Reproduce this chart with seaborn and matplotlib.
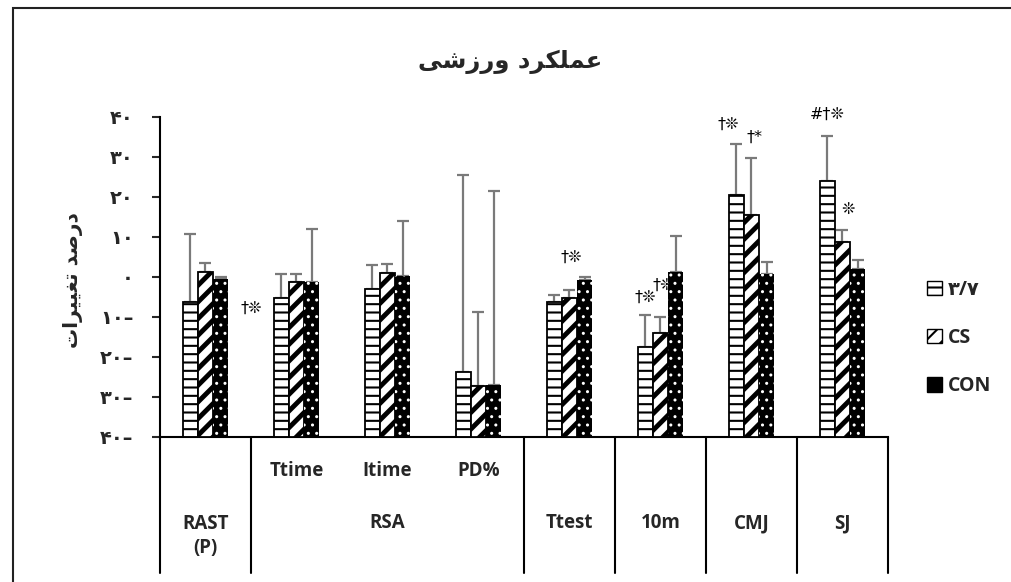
import numpy as np
import pandas as pd
import seaborn as sns
import matplotlib.pyplot as plt
from matplotlib.patches import Patch, Rectangle

# --- data ---
tests = ['RAST', 'Ttime', 'Itime', 'PD%', 'Ttest', '10m', 'CMJ', 'SJ']
groups = ['۳/۷', 'CS', 'CON']
mean_37 = [-6.2, -5.2, -2.9, -23.8, -6.2, -17.4, 20.6, 24.1]
mean_cs = [1.2, -1.2, 1.0, -27.2, -5.2, -14.1, 15.5, 8.8]
mean_con = [-0.4, -1.3, 0.2, -27.0, -0.8, 1.2, 0.7, 1.9]
sd_37 = [17.0, 6.0, 5.8, 49.4, 1.8, 7.9, 12.7, 11.2]
sd_cs = [2.3, 2.0, 2.3, 18.5, 2.0, 4.2, 14.2, 2.9]
sd_con = [0.3, 13.4, 13.8, 48.6, 0.7, 9.0, 3.1, 2.3]
floor = -40  # category axis crosses at -40

# significance marks: (x in category units, y value, text)
marks_x = [0.5, 4.02, 4.83, 5.03, 5.75, 6.03, 6.83, 7.06]
marks_y = [-7.8, 5.0, -5.0, -2.0, 38.2, 35.0, 40.8, 16.8]
marks_t = ['†❊', '†❊', '†❊', '†❊', '†❊', '†*', '#†❊', '❊']

# two-level category axis
sub_labels = {1: 'Ttime', 2: 'Itime', 3: 'PD%'}
main_labels = [(0, 'RAST\n(P)'), (2, 'RSA'), (4, 'Ttest'), (5, '10m'), (6, 'CMJ'), (7, 'SJ')]
separators = [-0.5, 0.5, 3.5, 4.5, 5.5, 6.5, 7.5]

title = 'عملکرد ورزشی'
ylabel = 'درصد تغییرات'

# --- minimal Persian shaping (matplotlib has no complex text layout) ---
FORMS = {
    'ع': '\uFEC9\uFECA\uFECB\uFECC', 'م': '\uFEE1\uFEE2\uFEE3\uFEE4',
    'ل': '\uFEDD\uFEDE\uFEDF\uFEE0', 'ک': '\uFB8E\uFB8F\uFB90\uFB91',
    'ش': '\uFEB5\uFEB6\uFEB7\uFEB8', 'ی': '\uFBFC\uFBFD\uFBFE\uFBFF',
    'ص': '\uFEB9\uFEBA\uFEBB\uFEBC', 'ت': '\uFE95\uFE96\uFE97\uFE98',
    'غ': '\uFECD\uFECE\uFECF\uFED0',
    'ر': '\uFEAD\uFEAE', 'د': '\uFEA9\uFEAA', 'و': '\uFEED\uFEEE',
    'ز': '\uFEAF\uFEB0', 'ا': '\uFE8D\uFE8E',
}


def shape(s):
    out = []
    for i, c in enumerate(s):
        if c not in FORMS:
            out.append(c)
            continue
        prev = s[i - 1] if i > 0 else ''
        nxt = s[i + 1] if i + 1 < len(s) else ''
        jp = prev in FORMS and len(FORMS[prev]) == 4
        jn = len(FORMS[c]) == 4 and nxt in FORMS
        f = FORMS[c]
        if jp and jn:
            out.append(f[3])
        elif jp:
            out.append(f[1])
        elif jn:
            out.append(f[2])
        else:
            out.append(f[0])
    return ''.join(reversed(out))


FA_DIGITS = str.maketrans('0123456789', '۰۱۲۳۴۵۶۷۸۹')


def fa_tick(v, pos=None):
    v = int(round(v + floor))
    s = str(abs(v)).translate(FA_DIGITS)
    return s + '–' if v < 0 else s


df = pd.DataFrame({
    'test': tests * 3,
    'group': [g for g in groups for _ in tests],
    'value': mean_37 + mean_cs + mean_con,
})
df['height'] = df['value'] - floor
sds = [sd_37, sd_cs, sd_con]

sns.set_style('white')
plt.rcParams['font.family'] = ['Open Sans', 'DejaVu Sans']
plt.rcParams['hatch.linewidth'] = 1.5

fig = plt.figure(figsize=(10.12, 5.82), dpi=100)
ax = fig.add_axes([160 / 1012, 1 - 437 / 582, 728 / 1012, 320 / 582])

sns.barplot(data=df, x='test', y='height', hue='group', order=tests,
            hue_order=groups, width=0.5, errorbar=None, legend=False, ax=ax)

styles = [
    dict(facecolor='white', edgecolor='black', hatch='--', hlw=1.5),
    dict(facecolor='white', edgecolor='black', hatch='//', hlw=3.5),
    dict(facecolor='black', edgecolor='white', hatch='..', hlw=1.0),
]
for cont, st, sd in zip(ax.containers, styles, sds):
    xs, tops = [], []
    for p in cont.patches:
        p.set_facecolor(st['facecolor'])
        p.set_edgecolor(st['edgecolor'])
        p.set_hatch(st['hatch'])
        p.set_linewidth(1.3 if st['facecolor'] == 'white' else 0)
        if hasattr(p, 'set_hatch_linewidth'):
            p.set_hatch_linewidth(st['hlw'])
        p.set_zorder(3)
        xs.append(p.get_x() + p.get_width() / 2)
        tops.append(p.get_height())
    ax.errorbar(xs, tops, yerr=[np.zeros(len(sd)), sd], fmt='none',
                ecolor='#7a7a7a', elinewidth=1.6, capsize=4, capthick=1.6, zorder=2)

ax.set_xlim(-0.5, 7.5)
ax.set_ylim(0, 80)
ax.set_yticks(np.arange(0, 81, 10))
ax.yaxis.set_major_formatter(plt.FuncFormatter(fa_tick))
ax.tick_params(axis='y', left=True, length=6, width=1.5, pad=13, labelsize=14)
for lab in ax.get_yticklabels():
    lab.set_fontfamily('DejaVu Sans')
    lab.set_fontweight('bold')
ax.set_xticks([])
ax.set_xlabel('')
ax.set_ylabel('')
for side in ['top', 'right']:
    ax.spines[side].set_visible(False)
for side in ['left', 'bottom']:
    ax.spines[side].set_linewidth(1.5)
    ax.spines[side].set_color('black')

# category axis below
for x in separators:
    ax.plot([x, x], [0, -136 / 320], transform=ax.get_xaxis_transform(),
            color='black', lw=1.5, clip_on=False)
trans = ax.get_xaxis_transform()
for x, t in sub_labels.items():
    ax.text(x, -0.105, t, transform=trans, ha='center', va='center',
            fontsize=13.5, fontweight='bold')
for x, t in main_labels:
    ax.text(x, -0.27 if '\n' not in t else -0.31, t, transform=trans,
            ha='center', va='center', fontsize=13.5, fontweight='bold', linespacing=1.3)

for x, y, t in zip(marks_x, marks_y, marks_t):
    ax.text(x, y - floor, t, ha='center', va='center', fontsize=11.5,
            family='DejaVu Sans', color='black', zorder=1)

fig.text(510 / 1012, 1 - 62 / 582, shape(title), ha='center', va='center',
         fontsize=17.5, fontweight='bold', family='DejaVu Sans')
fig.text(73 / 1012, 1 - 280 / 582, shape(ylabel), ha='center', va='center',
         rotation=90, fontsize=14.5, fontweight='bold', family='DejaVu Sans')

handles = [Patch(facecolor=st['facecolor'], edgecolor='black',
                 hatch=st['hatch'], lw=1.0) for st in styles]
leg = fig.legend(handles, groups, loc='center left', bbox_to_anchor=(910 / 1012, 1 - 338 / 582),
                 frameon=False, handlelength=0.75, handleheight=0.75,
                 handletextpad=0.3, labelspacing=1.45, prop={'weight': 'bold', 'size': 14})
for t in leg.get_texts():
    t.set_fontweight('bold')
    t.set_fontfamily(['Open Sans', 'DejaVu Sans'])

fig.add_artist(Rectangle((13 / 1012, -0.05), 1.1, 0.05 + (582 - 8) / 582,
                         transform=fig.transFigure, fill=False, edgecolor='#222222', lw=1.5))

fig.savefig('out.png', dpi=100)
